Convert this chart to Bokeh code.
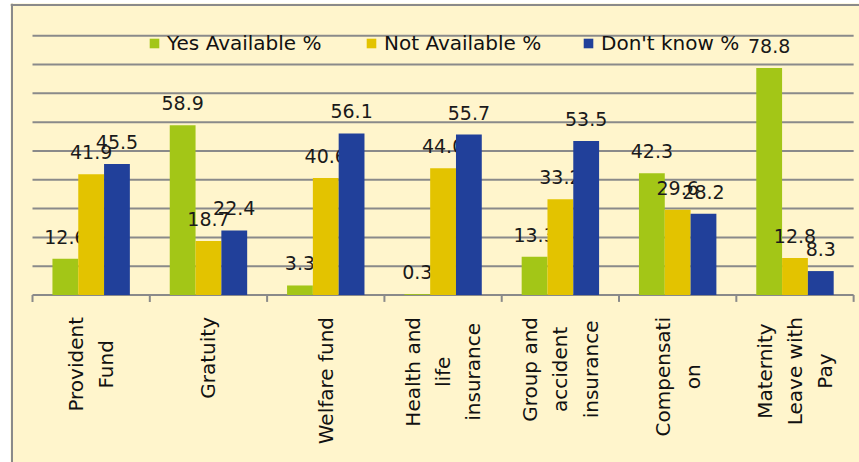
from math import pi

from bokeh.core.properties import value
from bokeh.embed import file_html
from bokeh.models import Legend, LegendItem, Span
from bokeh.plotting import figure
from bokeh.resources import INLINE

# Benefit categories (line breaks as they wrap under the axis)
categories = [
    "Provident\nFund",
    "Gratuity",
    "Welfare fund",
    "Health and\nlife\ninsurance",
    "Group and\naccident\ninsurance",
    "Compensati\non",
    "Maternity\nLeave with\nPay",
]

# Share of respondents per answer, in percent
yes_available = [12.6, 58.9, 3.3, 0.3, 13.3, 42.3, 78.8]
not_available = [41.9, 18.7, 40.6, 44.0, 33.2, 29.6, 12.8]
dont_know = [45.5, 22.4, 56.1, 55.7, 53.5, 28.2, 8.3]

series_names = ["Yes Available %", "Not Available %", "Don't know %"]
series_colors = ["#a3c617", "#e3c300", "#21409a"]

# Value-axis gridline steps
grid_values = [0, 10, 20, 30, 40, 50, 60, 70, 80, 90]

FONT_NAME = "DejaVu Sans"
FONT = value(FONT_NAME)
GRID = "#8a8a8a"
CREAM = "#fff5cc"

n = len(categories)
bar_w = 0.22
centers = [i + 0.5 for i in range(n)]

p = figure(
    width=859,
    height=462,
    x_range=(-0.1876, n + 0.050),
    y_range=(-58.16, 101.2),
    x_axis_location=None,
    y_axis_location=None,
    min_border_left=10,
    min_border_top=3,
    min_border_right=0,
    min_border_bottom=0,
    background_fill_color=CREAM,
    border_fill_color="white",
    outline_line_color=None,
    output_backend="svg",
    toolbar_location=None,
)
p.grid.visible = False

# Chart-area border (left and top edges)
p.add_layout(Span(location=-0.1748, dimension="height", line_color=GRID, line_width=2))
p.add_layout(Span(location=100.7, dimension="width", line_color=GRID, line_width=2))

# Horizontal gridlines and the category axis line
p.segment(x0=0, x1=n, y0=grid_values, y1=grid_values, line_color=GRID, line_width=2)
# Tick marks at the category boundaries
bounds = list(range(n + 1))
p.segment(x0=bounds, x1=bounds, y0=[0] * len(bounds), y1=[-2.4] * len(bounds),
          line_color=GRID, line_width=2)

series = [yes_available, not_available, dont_know]
offsets = [-bar_w, 0.0, bar_w]
bar_renderers = []
for vals, off, color in zip(series, offsets, series_colors):
    xs = [c + off for c in centers]
    r = p.vbar(x=xs, top=vals, bottom=0, width=bar_w, fill_color=color, line_color=None)
    bar_renderers.append(r)
    p.text(
        x=xs,
        y=vals,
        text=[f"{v:.1f}" for v in vals],
        text_align="center",
        text_baseline="alphabetic",
        y_offset=-22,
        text_font=FONT,
        text_font_size="19px",
        text_color="#1a1a1a",
    )

# Category names, rotated and wrapped below the axis
p.text(
    x=centers,
    y=[0] * n,
    text=categories,
    angle=pi / 2,
    anchor="center_right",
    text_align="center",
    y_offset=22,
    text_font=FONT,
    text_font_size="20px",
    text_line_height=1.26,
    text_color="#111111",
)

legend = Legend(
    items=[LegendItem(label=name, renderers=[r]) for name, r in zip(series_names, bar_renderers)],
    orientation="horizontal",
    location=(138, 407),
    background_fill_alpha=0,
    border_line_color=None,
    padding=0,
    margin=0,
    spacing=15,
    glyph_width=12,
    glyph_height=12,
    label_standoff=7,
    label_width=183,
    label_height=22,
    label_text_font=FONT_NAME,
    label_text_font_size="20px",
    label_text_color="#111111",
)
p.add_layout(legend)

open("out.html", "w").write(file_html(p, INLINE))
